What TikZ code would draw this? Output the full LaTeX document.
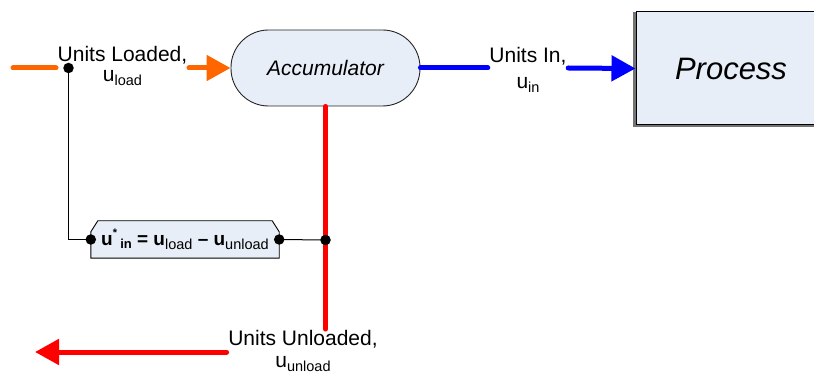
\documentclass[tikz,border=0pt]{standalone}
\usepackage{fontspec}
\setmainfont{Liberation Sans}
\usetikzlibrary{arrows.meta,calc,backgrounds}

\definecolor{boxfill}{RGB}{232,238,247}
\definecolor{loadorange}{RGB}{255,102,0}
\definecolor{inblue}{RGB}{0,0,255}
\definecolor{outred}{RGB}{255,0,0}

% label text size and lowered subscripts
\newcommand{\lblsize}{\fontsize{21}{26}\selectfont}
\newcommand{\sbs}[1]{\raisebox{-4pt}{\fontsize{14.5}{15}\selectfont\mdseries #1}}

\begin{document}
\begin{tikzpicture}[x=1pt,y=-1pt,
  flowlbl/.style={font=\lblsize, align=center, inner xsep=1.5pt, inner ysep=1pt},
  dot/.style={circle, fill=black, inner sep=0pt, minimum size=10.5pt},
  wire/.style={draw=black, line width=1pt},
  flowline/.style={line width=5pt, line cap=round},
  flowtip/.style={-{Triangle[length=24pt,width=25pt]}},
]
\path[use as bounding box] (0,0) rectangle (814,374);

% blocks
\node[draw=black!85, line width=0.9pt, fill=boxfill, rounded corners=37.5pt,
      minimum width=189pt, minimum height=76pt, inner sep=0pt,
      font=\fontsize{21}{25}\selectfont\itshape] (acc) at (325.5,68) {Accumulator};

\draw[black!55, line width=3pt] (634.5,12) -- (634.5,126) -- (820,126);
\node[draw=black, line width=1pt, fill=boxfill,
      minimum width=190pt, minimum height=113pt, inner sep=0pt,
      font=\fontsize{31}{36}\selectfont\itshape] (proc) at (731,68.5) {Process};

% flow labels (base anchor = baseline of the last line)
\node[flowlbl, anchor=base] (ldl) at (122.5,82) {Units Loaded,\\[-6pt] u\sbs{load}};
\node[flowlbl, anchor=base] (inl) at (528,89) {Units In,\\ u\sbs{in}};
\node[flowlbl, anchor=base] (unl) at (303,367.5) {Units Unloaded,\\[-4pt] u\sbs{unload}};

% free ends and the junction
\coordinate (src) at (13,68);
\coordinate (tap) at (68.5,68);
\coordinate (sink) at (35,352);
\coordinate (jn) at (325.5,240);

% balance equation block with chamfered top corners
\node[minimum width=188pt, minimum height=37pt, inner sep=0pt,
      font=\fontsize{19}{22}\selectfont\bfseries] (fml) at (185,239.5)
  {u\raisebox{9pt}{\fontsize{11}{11}\selectfont *}\,\raisebox{-3pt}{\fontsize{13}{13}\selectfont in} = u\sbs{load} – u\sbs{unload}};
\begin{scope}[on background layer]
  \draw[fill=boxfill, line width=0.9pt]
    (fml.south west) -- ($(fml.north west)+(0,11)$) -- ($(fml.north west)+(7,0)$)
    -- ($(fml.north east)+(-7,0)$) -- ($(fml.north east)+(0,11)$) -- (fml.south east) -- cycle;
\end{scope}

% flows
\draw[flowline, loadorange] (src) -- (src -| ldl.west);
\draw[flowline, loadorange, flowtip] (acc.west -| ldl.east) -- (acc.west);
\draw[flowline, inblue] (acc.east) -- (acc.east -| inl.west);
\draw[flowline, inblue, flowtip] (acc.east -| inl.east) -- (proc.west);
\draw[flowline, outred] (acc.south) -- (acc.south |- unl.north);
\draw[flowline, outred, flowtip] (sink -| unl.west) -- (sink);

% signal wires
\draw[wire] (tap) |- (fml.west);
\draw[wire] (fml.east) -- (jn);

\node[dot] (tapdot) at (tap) {};
\node[dot] (fmlin) at (fml.west) {};
\node[dot] (fmlout) at (fml.east) {};
\node[dot] (jndot) at (jn) {};
\end{tikzpicture}
\end{document}
